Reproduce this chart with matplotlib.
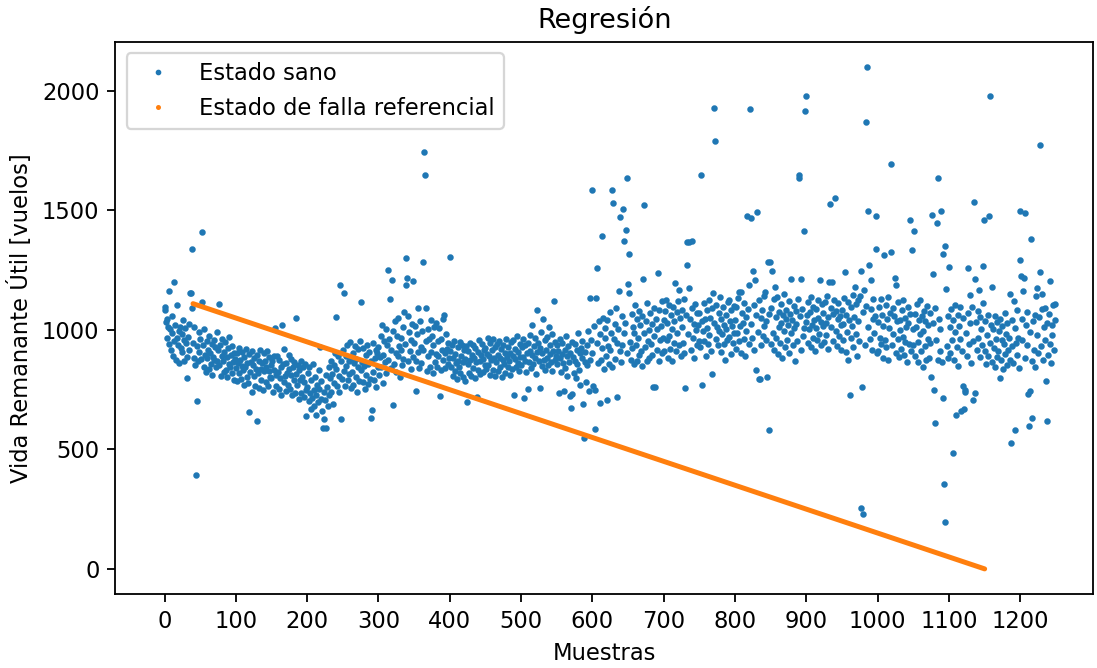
import matplotlib
matplotlib.use("Agg")
import matplotlib.pyplot as plt
import numpy as np
from matplotlib.lines import Line2D

# RUL estimada por muestra (estado sano), una por muestra desde 0
vida_sano = [
    1096, 1084, 1032, 968, 1047, 1012, 941, 1163, 1003, 917, 986, 1058, 893, 1200, 952, 1021, 874, 967, 1105, 938, 996, 862, 1014, 923, 981,
    906, 1043, 958, 871, 1009, 944, 887, 799, 972, 915, 1026, 1155, 1155, 1092, 1339, 947, 884, 1011, 853, 393, 703, 931, 868, 992, 909,
    962, 878, 1410, 1117, 935, 846, 1002, 897, 823, 954, 881, 918, 837, 975, 902, 859, 941, 812, 886, 957, 873, 928, 845, 991, 868,
    914, 1109, 852, 937, 809, 893, 962, 871, 826, 908, 948, 834, 887, 801, 925, 859, 972, 843, 896, 818, 934, 866, 905, 792, 879,
    841, 903, 787, 862, 925, 818, 876, 795, 849, 907, 832, 771, 886, 844, 922, 803, 861, 779, 657, 898, 826, 867, 742, 912, 853,
    809, 884, 766, 838, 619, 895, 821, 758, 872, 917, 835, 792, 861, 748, 903, 827, 869, 781, 846, 913, 764, 829, 888, 805, 852,
    797, 868, 742, 831, 893, 1010, 812, 764, 889, 826, 751, 874, 798, 846, 729, 1022, 857, 783, 921, 809, 745, 862, 818, 771, 896,
    838, 754, 811, 879, 726, 843, 792, 865, 738, 817, 1050, 768, 853, 712, 834, 789, 871, 736, 802, 845, 719, 781, 858, 747, 640,
    763, 821, 702, 845, 738, 670, 792, 715, 856, 749, 680, 803, 727, 644, 771, 698, 834, 752, 930, 711, 786, 659, 590, 742, 628,
    705, 812, 590, 761, 683, 847, 726, 798, 869, 742, 815, 691, 853, 778, 902, 1054, 836, 764, 889, 807, 741, 1188, 872, 628, 795,
    918, 1155, 827, 764, 893, 851, 937, 789, 872, 815, 948, 758, 884, 826, 905, 771, 862, 931, 803, 877, 742, 919, 846, 788, 954,
    832, 1117, 867, 781, 925, 848, 754, 896, 813, 939, 772, 858, 906, 795, 632, 871, 665, 824, 947, 789, 883, 918, 761, 902, 845,
    928, 812, 886, 973, 845, 1021, 897, 779, 952, 866, 1004, 821, 938, 875, 1251, 963, 1130, 842, 917, 1209, 686, 995, 858, 1037, 903,
    824, 976, 889, 1048, 933, 801, 967, 914, 852, 1013, 878, 1075, 941, 1188, 1301, 1218, 1059, 869, 992, 913, 836, 958, 1024, 1205, 885,
    947, 1018, 745, 872, 983, 906, 1092, 841, 1036, 928, 863, 997, 1285, 915, 1745, 1648, 1092, 954, 827, 1003, 889, 962, 846, 1041, 908,
    975, 818, 937, 1012, 866, 898, 1027, 845, 952, 889, 1008, 724, 961, 832, 918, 1046, 873, 1063, 902, 839, 985, 921, 856, 944, 881,
    912, 1305, 847, 938, 806, 883, 952, 829, 901, 861, 794, 927, 872, 843, 951, 818, 889, 936, 802, 864, 917, 787, 878, 933, 699,
    856, 912, 821, 947, 873, 808, 896, 939, 842, 881, 799, 925, 866, 720, 908, 833, 957, 871, 815, 894, 942, 826, 877, 918, 853,
    924, 837, 901, 968, 852, 889, 811, 946, 873, 918, 834, 961, 882, 809, 927, 865, 942, 828, 897, 953, 846, 884, 919, 803, 875,
    936, 858, 902, 821, 964, 887, 843, 928, 871, 812, 905, 949, 836, 893, 957, 728, 878, 921, 846, 973, 862, 908, 829, 941, 887,
    853, 928, 886, 961, 716, 872, 939, 824, 902, 753, 947, 866, 913, 978, 841, 895, 1021, 857, 934, 882, 968, 815, 1084, 907, 944,
    869, 757, 925, 992, 848, 903, 1046, 876, 958, 831, 917, 883, 972, 852, 1012, 898, 936, 864, 985, 827, 911, 1121, 873, 949, 892,
    936, 857, 912, 736, 881, 964, 823, 898, 945, 862, 745, 918, 841, 973, 889, 806, 932, 867, 725, 903, 674, 951, 730, 886, 821,
    943, 872, 797, 917, 858, 988, 834, 903, 769, 926, 881, 952, 690, 548, 865, 908, 784, 937, 852, 996, 745, 1134, 874, 958, 1586,
    903, 766, 1018, 749, 586, 1134, 1259, 947, 862, 1036, 695, 981, 874, 1393, 925, 1052, 838, 968, 1007, 891, 707, 1043, 932, 856, 1075,
    918, 986, 1586, 843, 1531, 961, 1024, 879, 1092, 945, 720, 1003, 1163, 912, 1473, 867, 1058, 938, 1506, 1372, 986, 1031, 1418, 1636, 904,
    1192, 1155, 1318, 948, 876, 1067, 923, 1012, 858, 989, 1103, 937, 872, 1046, 965, 897, 1081, 1019, 912, 848, 1057, 1213, 1523, 986, 927,
    1038, 869, 1112, 955, 1001, 883, 1069, 942, 1024, 895, 761, 1093, 976, 761, 1047, 918, 1005, 1238, 871, 1084, 958, 1016, 902, 1123, 967,
    1042, 913, 1081, 1126, 958, 1029, 884, 1106, 975, 921, 1063, 1004, 868, 1097, 947, 1036, 1197, 912, 1074, 986, 1121, 1167, 938, 1052, 889,
    1013, 1085, 946, 1128, 903, 757, 1061, 1368, 1272, 982, 1176, 1370, 1044, 918, 1093, 1372, 965, 1026, 881, 1108, 998, 937, 1072, 1019, 952,
    1069, 927, 1648, 1038, 770, 996, 1114, 953, 1047, 892, 1083, 1008, 941, 1125, 978, 1052, 913, 1091, 816, 1155, 1929, 1027, 1791, 962, 1104,
    1011, 937, 1073, 995, 1139, 908, 1046, 983, 1098, 942, 1021, 876, 1064, 1003, 957, 1117, 1126, 972, 1038, 898, 1085, 1016, 946, 1102, 987,
    1043, 921, 1096, 987, 1135, 954, 1159, 1018, 1159, 903, 1072, 1031, 962, 1113, 889, 1054, 997, 1477, 1088, 1188, 942, 1925, 1026, 1469, 967,
    1247, 1104, 918, 1209, 1061, 833, 1494, 993, 1127, 795, 795, 1049, 938, 1082, 976, 1015, 1143, 1159, 1036, 957, 803, 1285, 582, 1068, 1285,
    943, 1092, 1247, 986, 1128, 917, 1180, 1053, 968, 1136, 899, 1074, 1012, 945, 1107, 1031, 882, 1063, 994, 1149, 927, 1046, 1085, 958, 1019,
    1121, 903, 1066, 989, 1213, 1041, 936, 1102, 1007, 872, 1079, 1024, 953, 1131, 1648, 1636, 1057, 918, 1213, 1089, 976, 1008, 1414, 1916, 1034,
    1979, 1062, 947, 1118, 1003, 1074, 928, 1139, 1021, 966, 1095, 1043, 912, 1086, 1009, 958, 1127, 1052, 983, 1209, 1034, 937, 1108, 1015, 1071,
    949, 1116, 1027, 978, 1143, 1056, 921, 1201, 1527, 1092, 1013, 1201, 1068, 954, 1124, 1552, 997, 1081, 932, 1045, 1112, 973, 1058, 1021, 916,
    1083, 957, 1026, 1134, 1243, 908, 1062, 993, 1118, 876, 1041, 728, 1097, 968, 1015, 1146, 927, 1053, 1180, 984, 1109, 892, 1037, 1125, 953,
    1142, 1247, 255, 761, 230, 1074, 1167, 937, 1102, 1870, 2100, 1498, 1012, 1272, 963, 1088, 1209, 918, 1046, 1131, 986, 1059, 1477, 1339, 904,
    1034, 912, 1096, 967, 1128, 943, 1061, 882, 1017, 1314, 958, 1103, 927, 1046, 1139, 874, 1008, 1071, 1326, 1695, 939, 1092, 985, 1057, 1218,
    903, 1188, 1038, 962, 1117, 886, 1043, 1001, 922, 1084, 971, 1126, 895, 1052, 948, 1013, 867, 1098, 1029, 941, 1460, 1066, 913, 1335, 1004,
    938, 1414, 1067, 889, 1012, 1108, 951, 867, 1043, 985, 1124, 912, 1058, 846, 997, 1081, 934, 1036, 873, 1102, 963, 1019, 881, 1072, 946,
    803, 1481, 1027, 1234, 749, 1093, 611, 958, 1448, 1636, 874, 1046, 912, 1003, 1498, 866, 1318, 716, 356, 197, 1351, 1172, 931, 1059, 884,
    1264, 1013, 902, 1087, 958, 485, 1041, 876, 993, 1106, 644, 927, 1062, 848, 1018, 963, 1095, 661, 912, 766, 1049, 669, 749, 741, 986,
    893, 1072, 1259, 941, 1146, 1027, 862, 1098, 955, 707, 1536, 1213, 736, 1034, 918, 1081, 967, 1167, 886, 1056, 1003, 939, 1112, 1268, 1460,
    912, 1037, 858, 978, 1064, 893, 1477, 1979, 947, 1021, 866, 1180, 1003, 924, 845, 1058, 961, 887, 1032, 912, 994, 799, 1046, 873, 958,
    1017, 836, 943, 1072, 901, 985, 852, 1029, 917, 968, 874, 1151, 527, 1041, 933, 862, 1121, 1009, 582, 946, 1083, 897, 968, 839, 1293,
    1498, 1226, 956, 1047, 1163, 1218, 1490, 883, 1021, 938, 1076, 732, 598, 745, 992, 1381, 869, 632, 1038, 917, 1061, 846, 1142, 978, 1176,
    903, 1054, 1243, 1774, 931, 1086, 1151, 874, 1012, 957, 1093, 787, 619, 1028, 896, 1067, 943, 1205, 862, 1019, 978, 1104, 917, 1043, 1109,
]

# recta de falla referencial: extremos (muestra, vida)
falla_x = [40, 1150]
falla_y = [1110, 0]

xticks = list(range(0, 1201, 100))
yticks = [0, 500, 1000, 1500, 2000]

muestras = np.arange(len(vida_sano))

DPI = 163
fig = plt.figure(figsize=(1097 / DPI, 668 / DPI), dpi=DPI)
ax = fig.add_axes([0.1051, 0.1108, 0.8913, 0.8263])

ax.plot(muestras, vida_sano, '.', color='#1f77b4', markersize=3.7)
ax.plot(falla_x, falla_y, '-', color='#ff7f0e', linewidth=2.2, solid_capstyle='round')

ax.set_xlim(-69, 1302)
ax.set_ylim(-105, 2205)
ax.set_xticks(xticks)
ax.set_yticks(yticks)

ax.set_title('Regresión', fontsize=12)
ax.set_xlabel('Muestras')
ax.set_ylabel('Vida Remanante Útil [vuelos]')

handles = [
    Line2D([], [], ls='', marker='.', color='#1f77b4', markersize=3.0),
    Line2D([], [], ls='', marker='.', color='#ff7f0e', markersize=2.4),
]
ax.legend(handles, ['Estado sano', 'Estado de falla referencial'], loc='upper left')

fig.savefig('out.png', dpi=DPI)
